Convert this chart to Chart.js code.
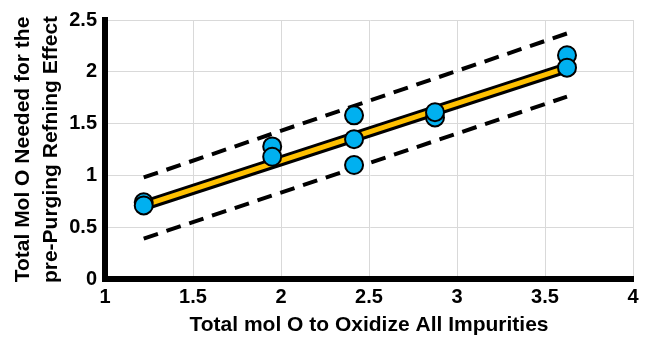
<!DOCTYPE html>
<html>
<head>
<meta charset="utf-8">
<script src="https://cdn.jsdelivr.net/npm/chart.js@4"></script>
<style>
  body { margin: 0; background: #fff; }
  #wrap { width: 650px; height: 338px; }
</style>
</head>
<body>
<div id="wrap"><canvas id="myChart"></canvas></div>
<script>
// measured points
const impurityO = [1.22, 1.22, 1.95, 1.95, 2.415, 2.415, 2.415, 2.875, 2.875, 3.625, 3.625];
const neededO = [0.74, 0.71, 1.28, 1.18, 1.58, 1.35, 1.1, 1.56, 1.61, 2.16, 2.04];

// fit line and bounds (end points)
const fitX = [1.22, 3.625];
const fitY = [0.71, 2.04];
const upperY = [0.98, 2.37];
const lowerY = [0.39, 1.76];

const xTicks = [1, 1.5, 2, 2.5, 3, 3.5, 4];
const yTicks = [0, 0.5, 1, 1.5, 2, 2.5];

const pts = (xs, ys) => xs.map((x, i) => ({ x: x, y: ys[i] }));

const font = "'Liberation Sans', Arial, sans-serif";

const ctx = document.getElementById("myChart");

new Chart(ctx, {
  type: "scatter",
  data: {
    datasets: [
      {
        label: "data",
        data: pts(impurityO, neededO),
        backgroundColor: "#00b0f0",
        borderColor: "#000",
        borderWidth: 2,
        pointRadius: 9,
        showLine: false,
      },
      {
        label: "fit",
        data: pts(fitX, fitY),
        showLine: true,
        borderColor: "#ffc000",
        borderWidth: 5,
        pointRadius: 0,
      },
      {
        label: "fit outline",
        data: pts(fitX, fitY),
        showLine: true,
        borderColor: "#000",
        borderWidth: 11,
        pointRadius: 0,
      },
      {
        label: "upper",
        data: pts(fitX, upperY),
        showLine: true,
        borderColor: "#000",
        borderWidth: 4,
        borderDash: [15, 9],
        pointRadius: 0,
      },
      {
        label: "lower",
        data: pts(fitX, lowerY),
        showLine: true,
        borderColor: "#000",
        borderWidth: 4,
        borderDash: [15, 9],
        pointRadius: 0,
      },
    ],
  },
  options: {
    responsive: true,
    maintainAspectRatio: false,
    animation: false,
    layout: { padding: { top: 17, right: 17, left: 0, bottom: 0 } },
    plugins: {
      legend: { display: false },
      tooltip: { enabled: false },
    },
    scales: {
      x: {
        type: "linear",
        min: 1,
        max: 4,
        afterBuildTicks: (s) => { s.ticks = xTicks.map((v) => ({ value: v })); },
        afterFit: (s) => { s.height = 59; },
        grid: { color: "#d9d9d9", drawTicks: false },
        border: { color: "#000", width: 6 },
        ticks: {
          color: "#000",
          padding: 6,
          callback: (v) => String(v),
          font: { family: font, size: 20, weight: "bold" },
        },
        title: {
          display: true,
          text: "Total mol O to Oxidize All Impurities",
          color: "#000",
          padding: { top: 2, bottom: 0 },
          font: { family: font, size: 21, weight: "bold" },
        },
      },
      y: {
        min: 0,
        max: 2.5,
        afterBuildTicks: (s) => { s.ticks = yTicks.map((v) => ({ value: v })); },
        afterFit: (s) => { s.width = 105; },
        grid: { color: "#d9d9d9", drawTicks: false },
        border: { color: "#000", width: 6 },
        ticks: {
          color: "#000",
          padding: 8,
          callback: (v) => String(v),
          font: { family: font, size: 20, weight: "bold" },
        },
        title: {
          display: true,
          text: ["Total Mol O Needed for the", "pre-Purging Refning Effect"],
          color: "#000",
          padding: { top: 10, bottom: 0 },
          font: { family: font, size: 21, weight: "bold", lineHeight: 1.3 },
        },
      },
    },
  },
});
</script>
</body>
</html>
